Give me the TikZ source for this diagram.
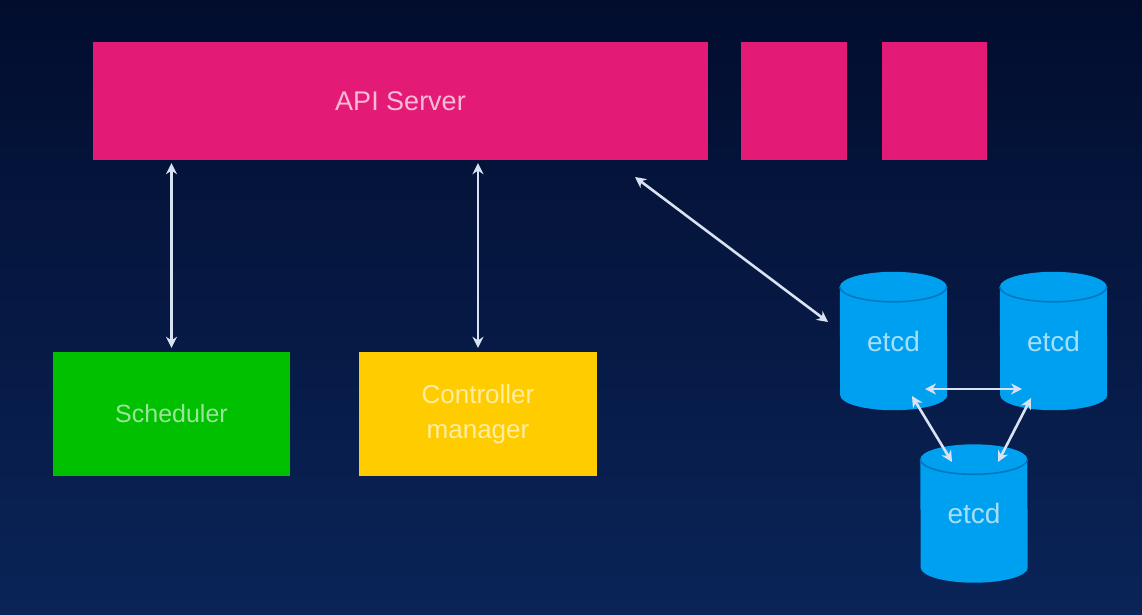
\documentclass[tikz,border=0pt]{standalone}
\usepackage{fontspec}
\setmainfont{Liberation Sans}
\usetikzlibrary{arrows.meta,calc}
\pgfdeclarelayer{back}
\pgfdeclarelayer{cyl}
\pgfsetlayers{back,cyl,main}
\definecolor{bgtop}{HTML}{020D2E}
\definecolor{bgbot}{HTML}{0A2458}
\definecolor{apipink}{HTML}{E31B77}
\definecolor{schedgreen}{HTML}{00C000}
\definecolor{ctrlyellow}{HTML}{FFCC00}
\definecolor{etcdblue}{HTML}{00A0F0}
\definecolor{etcdline}{HTML}{0078C0}
\definecolor{arrowgray}{HTML}{D8E2F2}
\tikzset{
  box/.style={draw=none, inner sep=0pt, font=\fontsize{25}{35}\selectfont, align=center},
  apibox/.style={box, fill=apipink, text=white!70!apipink, font=\fontsize{27}{30}\selectfont},
  etcdnode/.style={inner sep=0pt, minimum width=107pt, minimum height=138pt, font=\fontsize{28}{30}\selectfont, text=white!65!etcdblue},
  link/.style={draw=arrowgray, line width=2.6pt, {Stealth[length=11pt,width=11pt]}-{Stealth[length=11pt,width=11pt]}},
}
\begin{document}
\begin{tikzpicture}[x=1pt,y=-1pt]
\begin{pgfonlayer}{back}
\shade[top color=bgtop, bottom color=bgbot] (0,0) rectangle (1142,614);
\end{pgfonlayer}
\useasboundingbox (0,0) rectangle (1142,614);

% API server and extra boxes
\node[apibox, minimum width=615pt, minimum height=118pt] (api) at (400.5,101) {API Server};
\node[apibox, minimum width=106pt, minimum height=118pt] (api2) at (794,101) {};
\node[apibox, minimum width=105pt, minimum height=118pt] (api3) at (934.5,101) {};

% Scheduler and controller manager
\node[box, fill=schedgreen, text=white!60!schedgreen, minimum width=237pt, minimum height=124pt] (sched) at (171.5,414) {Scheduler};
\node[box, fill=ctrlyellow, text=white!65!ctrlyellow, minimum width=238pt, minimum height=124pt, font=\fontsize{26}{35}\selectfont] (ctrl) at (478,414) {Controller\\manager};

% etcd cylinders
\node[etcdnode] (e1) at (893.5,341) {etcd};
\node[etcdnode] (e2) at (1053.5,341) {etcd};
\node[etcdnode] (e3) at (974,513.5) {etcd};

\begin{pgfonlayer}{cyl}
\foreach \e in {e1,e2,e3}{
  \fill[etcdblue] ([yshift=-15pt]\e.north west) arc[start angle=180,end angle=0,x radius=53.5pt,y radius=15pt]
    -- ([yshift=15pt]\e.south east) arc[start angle=0,end angle=-180,x radius=53.5pt,y radius=15pt] -- cycle;
  \draw[etcdline, line width=1.6pt] ([yshift=-15pt]\e.north west) arc[start angle=180,end angle=360,x radius=53.5pt,y radius=15pt];
}
\end{pgfonlayer}

% connectors
\draw[link] ([yshift=-3pt]api.south -| sched.north) -- ([yshift=4pt]sched.north);
\draw[link] ([yshift=-3pt]api.south -| ctrl.north) -- ([yshift=4pt]ctrl.north);
\coordinate (ad) at (635,177);
\coordinate (ed) at (828,322);
\draw[link] (ad) -- (ed);
\coordinate (h1) at (925,389);
\coordinate (h2) at (1022,389);
\draw[link] (h1) -- (h2);
\coordinate (d1) at (912,396);
\coordinate (d2) at (952,462);
\draw[link] (d1) -- (d2);
\coordinate (d3) at (1031,398);
\coordinate (d4) at (998,462);
\draw[link] (d3) -- (d4);
\end{tikzpicture}
\end{document}
